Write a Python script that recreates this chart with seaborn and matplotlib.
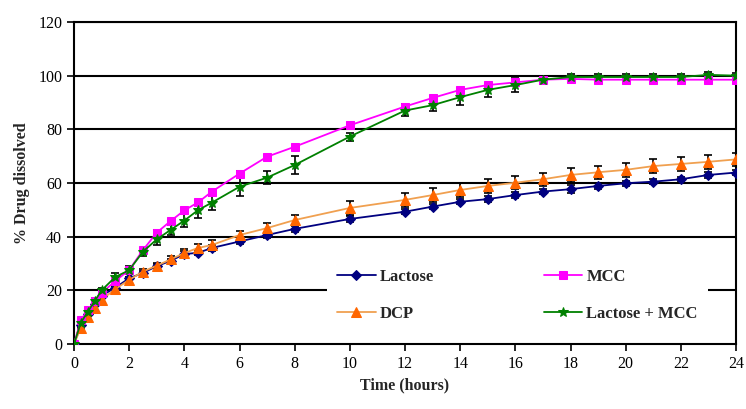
import matplotlib
matplotlib.use("Agg")
import matplotlib.pyplot as plt
import seaborn as sns
import pandas as pd

time_h = [0, 0.25, 0.5, 0.75, 1, 1.5, 2, 2.5, 3, 3.5, 4, 4.5, 5, 6, 7, 8, 10,
          12, 13, 14, 15, 16, 17, 18, 19, 20, 21, 22, 23, 24]

lactose = [0, 7, 11, 15, 18, 21, 24.5, 26.5, 29, 31, 33.5, 34, 35.8, 38.2, 40.6,
           42.9, 46.6, 49.3, 51.2, 53, 54, 55.5, 56.8, 57.7, 58.9, 59.9, 60.5,
           61.4, 63, 63.9]
dcp = [0, 6, 10, 13.5, 16.5, 20.5, 23.9, 27, 29.2, 31.5, 33.9, 35.8, 36.9, 40.6,
       43.2, 46.2, 50.7, 53.7, 55.5, 57.4, 58.9, 60.1, 61.4, 63, 64, 64.9, 66.3,
       67.1, 67.9, 68.8]
mcc = [0, 9, 12.5, 16, 19, 23.5, 27.6, 35, 41.5, 45.8, 49.8, 52.8, 56.8, 63.5,
       69.8, 73.5, 81.5, 88.5, 91.7, 94.7, 96.5, 97.5, 98.5, 98.8, 98.5, 98.5,
       98.5, 98.5, 98.5, 98.5]
lac_mcc = [0, 8, 12, 16, 20, 25, 27.5, 34.4, 39, 42.5, 46, 49.9, 52.7, 58.6, 62,
           66.7, 77.3, 87, 89, 92, 94.7, 96.5, 98.5, 99.5, 99.5, 99.5, 99.5, 99.5,
           100.3, 100]

lactose_err = [0, .5, .5, .5, .5, .6, .6, .8, .8, .8, 1, 1, 1, 1, 1, 1, 1, 1, 1,
               1, 1, 1, 1, 1.5, 1, 1, 1, 1, 1, 1]
dcp_err = [0, .5, .5, .8, .8, 1, 1, 1, 1, 1.2, 1.5, 1.5, 2, 1.5, 2, 2, 2.5, 2.5,
           2.5, 2.5, 2.5, 2.5, 2.5, 2.5, 2.5, 2.5, 2.5, 2.5, 2.5, 2.5]
mcc_err = [0, .5, .5, .5, .6, .6, .8, .8, .8, .8, .8, .8, .8, .8, .8, .8, .8, .8,
           .8, .8, .8, .8, .8, .8, .8, .8, .8, .8, .8, .8]
lac_mcc_err = [0, .5, 1, 1, 1, 1.5, 1.5, 1.5, 2, 2, 2.5, 2.8, 2.6, 3.4, 2.4, 3.4,
               1.5, 2.2, 2, 2.8, 2.5, 2.5, 1.5, 1, 1, 1, 1, 1, 1, 1]

series_names = ["Lactose", "DCP", "MCC", "Lactose + MCC"]
series_vals = [lactose, dcp, mcc, lac_mcc]
series_errs = [lactose_err, dcp_err, mcc_err, lac_mcc_err]
x_ticks = list(range(0, 25, 2))
y_ticks = list(range(0, 121, 20))

colors = {"Lactose": "#000080", "DCP": "#FF6600", "MCC": "#FF00FF",
          "Lactose + MCC": "#008000"}
line_colors = {"Lactose": "#000080", "DCP": "#F0A050", "MCC": "#FF00FF",
               "Lactose + MCC": "#008000"}
markers = {"Lactose": "D", "DCP": "^", "MCC": "s", "Lactose + MCC": "*"}
msizes = {"Lactose": 5.5, "DCP": 7, "MCC": 6, "Lactose + MCC": 7}

rows = []
for name, vals, errs in zip(series_names, series_vals, series_errs):
    for t, v, e in zip(time_h, vals, errs):
        rows.append({"Time": t, "Value": v, "Err": e, "Series": name})
df = pd.DataFrame(rows)

sns.set_theme(style="white")
plt.rcParams["font.family"] = ["Liberation Serif", "DejaVu Serif"]

fig = plt.figure(figsize=(7.46, 4.09), dpi=100)
ax = fig.add_axes([74 / 746, 1 - 344 / 409, 662 / 746, 322 / 409])

# gridlines
for yv in y_ticks[1:]:
    ax.axhline(yv, color="black", lw=1.5, zorder=0)

# error bars
for name in series_names:
    sub = df[df["Series"] == name]
    ax.errorbar(sub["Time"], sub["Value"], yerr=sub["Err"], fmt="none",
                ecolor="black", elinewidth=1.2, capsize=3, capthick=1.2,
                zorder=2)

# lines and markers
for name in series_names:
    sub = df[df["Series"] == name]
    sns.lineplot(data=sub, x="Time", y="Value", ax=ax, color=line_colors[name],
                 marker=markers[name], markersize=msizes[name],
                 markerfacecolor=colors[name], markeredgecolor=colors[name],
                 lw=1.3, label=name, zorder=3, errorbar=None)

ax.set_xlim(0, 24)
ax.set_ylim(0, 120)
ax.set_xticks(x_ticks)
ax.set_yticks(y_ticks)
ax.tick_params(axis="both", direction="out", length=5, width=1.2,
               labelsize=11.5, colors="black", bottom=True, left=True)
for sp in ax.spines.values():
    sp.set_color("black")
    sp.set_linewidth(1.5)

ax.set_xlabel("Time (hours)", fontsize=11.5, fontweight="bold", labelpad=4)
ax.set_ylabel("% Drug dissolved", fontsize=11.5, fontweight="bold", labelpad=6)

leg = ax.legend(loc="lower left", bbox_to_anchor=(0.37, 0.012, 0.6, 0.2),
                mode="expand", ncol=2, frameon=True, facecolor="white",
                edgecolor="none", framealpha=1, fancybox=False,
                prop={"weight": "bold", "size": 12}, handlelength=2.3,
                labelspacing=1.25, borderpad=0.6, handletextpad=0.25)
leg.set_zorder(5)

fig.savefig("out.png", dpi=100, facecolor="white")
